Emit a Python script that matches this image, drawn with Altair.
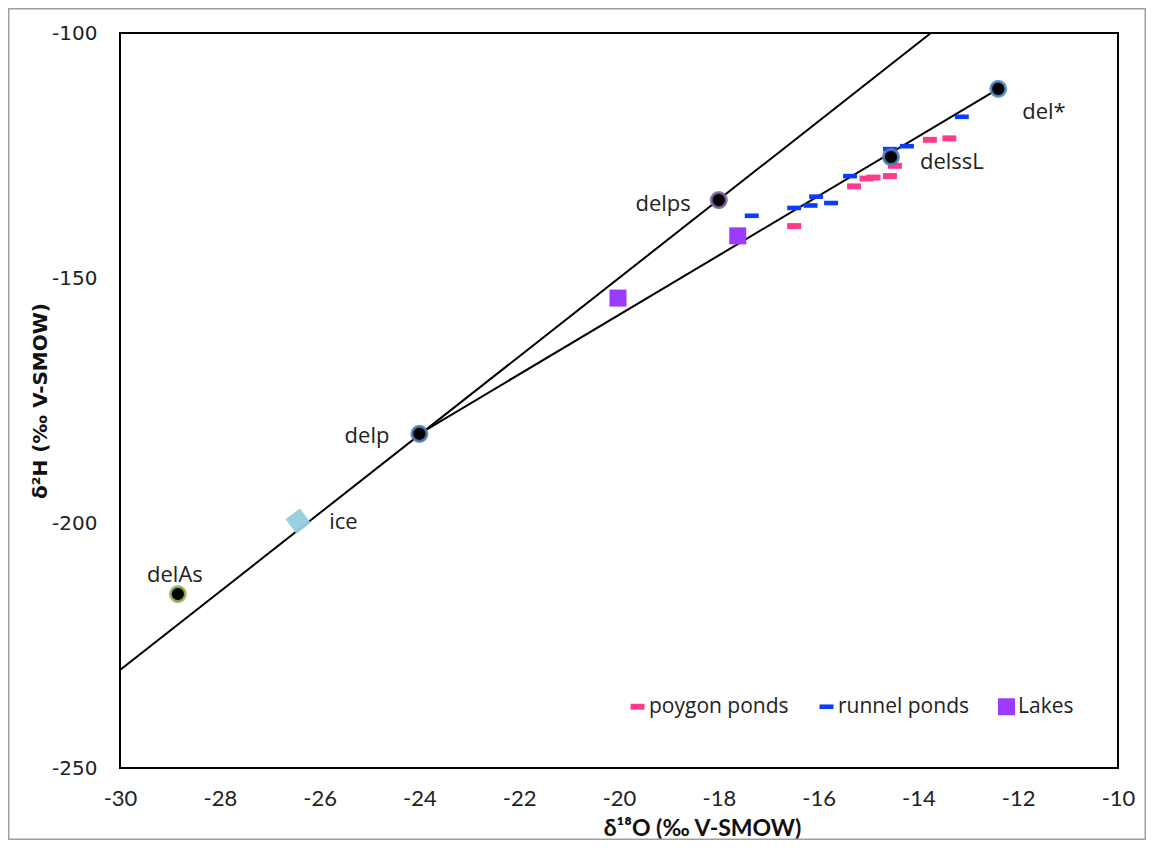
import altair as alt
import pandas as pd

# ---------------- data ----------------
# end members (black circles)
em_names = ["del*", "delssL", "delps", "delp", "delAs"]
em_x = [-12.4, -14.55, -18.0, -24.0, -28.84]
em_y = [-111.4, -125.3, -134.1, -181.8, -214.5]

# ice (diamond)
ice_names = ["ice"]
ice_x = [-26.43]
ice_y = [-199.6]

# meteoric water line (through delp / delps) and evaporation line (delp -> del*)
mwl_x = [-30.0, -13.75]
mwl_y = [-230.0, -100.0]
evap_x = [-24.0, -12.4]
evap_y = [-181.8, -111.4]

# pond / lake samples
poly_x = [-16.49, -15.29, -15.04, -14.90, -14.57, -14.47, -13.77, -13.38]
poly_y = [-139.4, -131.3, -129.7, -129.5, -129.2, -127.1, -121.8, -121.5]
runnel_x = [-17.34, -16.49, -16.16, -16.05, -15.75, -15.37, -14.57, -14.23, -13.13]
runnel_y = [-137.3, -135.7, -135.2, -133.4, -134.7, -129.2, -123.7, -123.1, -117.1]
lake_x = [-20.02, -17.62]
lake_y = [-154.1, -141.4]

series_names = ["poygon ponds", "runnel ponds", "Lakes"]
x_ticks = [-30, -28, -26, -24, -22, -20, -18, -16, -14, -12, -10]
y_ticks = [-250, -200, -150, -100]

# ---------------- tables ----------------
samples = pd.concat([
    pd.DataFrame({"x": poly_x, "y": poly_y, "series": series_names[0]}),
    pd.DataFrame({"x": runnel_x, "y": runnel_y, "series": series_names[1]}),
    pd.DataFrame({"x": lake_x, "y": lake_y, "series": series_names[2]}),
], ignore_index=True)
ends = pd.DataFrame({"x": em_x, "y": em_y, "name": em_names})
ice = pd.DataFrame({"x": ice_x, "y": ice_y, "name": ice_names})
mwl = pd.DataFrame({"x": mwl_x, "y": mwl_y})
evap = pd.DataFrame({"x": evap_x, "y": evap_y})

# ---------------- styles ----------------
W, H = 998, 735
PAD = {"left": 112, "top": 25, "right": 28, "bottom": 72}
series_colors = ["#FF3A8C", "#0B3BFF", "#9B3BFF"]
series_shapes = [
    "M-0.82,-0.35H0.82V0.35H-0.82Z",
    "M-0.82,-0.27H0.82V0.27H-0.82Z",
    "square",
]
em_stroke = {"del*": "#5B8FC9", "delssL": "#4F81BD", "delps": "#8064A2",
             "delp": "#4F81BD", "delAs": "#9BBB59"}
label_pos = {  # name: (dx, dy, align)
    "del*": (24, 23, "left"),
    "delssL": (29, 5, "left"),
    "delps": (-28, 4, "right"),
    "delp": (-30, 2, "right"),
    "delAs": (-3, -19, "center"),
    "ice": (31, 1, "left"),
}

x_enc = alt.X(
    "x:Q",
    scale=alt.Scale(domain=[-30, -10], nice=False, zero=False),
    axis=alt.Axis(
        title="δ¹⁸O (‰ V-SMOW)", values=x_ticks, labelExpr="'' + datum.value",
        grid=False, ticks=False, tickSize=0, domain=False, labelFlush=False,
        labelFont="Lato", labelFontSize=22, labelColor="#222", labelPadding=20,
        titleFont="Lato", titleFontSize=23, titleFontWeight="bold", titleColor="#111",
        titleX=582, titleY=67, titleAlign="center", titleBaseline="alphabetic",
    ),
)
y_enc = alt.Y(
    "y:Q",
    scale=alt.Scale(domain=[-250, -100], nice=False, zero=False),
    axis=alt.Axis(
        title="δ²H (‰ V-SMOW)", values=y_ticks, labelExpr="'' + datum.value",
        grid=False, ticks=False, tickSize=0, domain=False, labelFlush=False,
        labelFont="DejaVu Sans", labelFontSize=20, labelColor="#222", labelPadding=23,
        titleFont="DejaVu Sans", titleFontSize=20, titleFontWeight="bold", titleColor="#111",
        titleAngle=270, titleX=-80, titleY=H / 2, titleAlign="center", titleBaseline="middle",
    ),
)

frame = alt.Chart(pd.DataFrame({"a": [0]})).mark_rect(
    filled=False, stroke="#A0A0A0", strokeWidth=1.5
).encode(
    x=alt.value(-PAD["left"] + 0.75), x2=alt.value(W + PAD["right"] - 0.75),
    y=alt.value(-PAD["top"] + 0.75), y2=alt.value(H + PAD["bottom"] - 0.75),
)

legend = alt.Legend(
    title=None, orient="none", legendX=507, legendY=663, direction="horizontal",
    labelFont="Open Sans", labelFontSize=21, labelColor="#222", labelOffset=1,
    symbolSize=289, symbolStrokeWidth=0, symbolOpacity=1, columnPadding=27, padding=0,
)

pts = alt.Chart(samples).mark_point(filled=True, size=289, opacity=1).encode(
    x=x_enc, y=y_enc,
    color=alt.Color("series:N", scale=alt.Scale(domain=series_names, range=series_colors),
                    legend=legend),
    shape=alt.Shape("series:N", scale=alt.Scale(domain=series_names, range=series_shapes),
                    legend=legend),
)

line_mwl = alt.Chart(mwl).mark_line(color="black", strokeWidth=2).encode(x=x_enc, y=y_enc)
line_evap = alt.Chart(evap).mark_line(color="black", strokeWidth=2).encode(x=x_enc, y=y_enc)

ice_pt = alt.Chart(ice).mark_point(
    shape="diamond", filled=True, size=650, color="#93CDDD", opacity=0.95, angle=8
).encode(x=x_enc, y=y_enc)

circles = alt.Chart(ends).mark_point(
    shape="circle", filled=True, size=230, fill="black", opacity=1,
    fillOpacity=1, strokeWidth=3, strokeOpacity=0.85
).encode(
    x=x_enc, y=y_enc,
    stroke=alt.Stroke("name:N", scale=alt.Scale(domain=list(em_stroke.keys()),
                                                range=list(em_stroke.values())), legend=None),
)

labels_all = pd.concat([ends, ice], ignore_index=True)
label_layers = []
for nm, (dx, dy, al) in label_pos.items():
    label_layers.append(
        alt.Chart(labels_all).transform_filter(alt.datum.name == nm).mark_text(
            font="Open Sans", fontSize=22, color="#222", align=al, baseline="middle", dx=dx, dy=dy
        ).encode(x=x_enc, y=y_enc, text="name:N")
    )

chart = alt.layer(
    frame, line_mwl, line_evap, pts, ice_pt, circles, *label_layers
).properties(
    width=W, height=H, autosize=alt.AutoSizeParams(type="none"), padding=PAD,
    background="white",
).configure_view(
    stroke="black", strokeWidth=2
)

chart.save("out.html", embed_options={"renderer": "svg", "actions": False})
